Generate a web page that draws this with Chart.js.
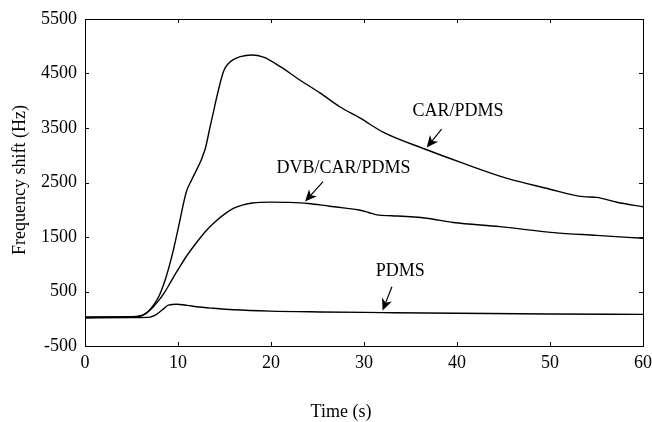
<!DOCTYPE html>
<html>
<head>
<meta charset="utf-8">
<script src="https://cdn.jsdelivr.net/npm/chart.js@4"></script>
<style>
  html, body { margin: 0; padding: 0; background: #fff; }
  #wrap { width: 652px; height: 422px; }
</style>
</head>
<body>
<div id="wrap"><canvas id="lineChart" width="652" height="422"></canvas></div>
<script>
// time (s) and frequency shift (Hz)
var carTime  = [0, 5, 6, 6.5, 7, 7.5, 8, 8.5, 9, 9.5, 10, 10.9, 11.5, 12.9, 13.5, 14.9, 15.4, 16, 16.7, 17.9, 19.2, 21, 23.1, 25.3, 27.4, 29.6, 32.1, 36.6, 40.7, 45.3, 49.6, 53.6, 55, 57.2, 60];
var carShift = [35, 38, 55, 90, 170, 280, 430, 650, 930, 1260, 1640, 2330, 2560, 3100, 3560, 4540, 4680, 4760, 4810, 4840, 4800, 4625, 4380, 4140, 3890, 3680, 3420, 3110, 2850, 2580, 2395, 2240, 2228, 2137, 2055];

var dvbTime  = [0, 5, 6, 6.5, 7, 7.5, 8, 8.5, 9, 9.5, 10, 11, 12, 13, 14, 15, 16, 17, 18, 20, 22, 24, 26.3, 28, 29.5, 30.5, 31.4, 33, 36.7, 39.6, 44.6, 50.4, 55, 60];
var dvbShift = [25, 28, 50, 95, 160, 250, 350, 470, 610, 760, 900, 1170, 1400, 1610, 1780, 1920, 2030, 2090, 2125, 2140, 2135, 2115, 2065, 2030, 1995, 1950, 1905, 1890, 1845, 1765, 1690, 1580, 1530, 1476];

var pdmsTime  = [0, 5, 7, 7.5, 8, 8.5, 8.96, 9.86, 11, 12, 13.8, 16, 19.9, 25.3, 32, 40, 50, 60];
var pdmsShift = [15, 20, 30, 60, 120, 190, 250, 265, 245, 220, 192, 165, 140, 125, 113, 100, 88, 80];

var xTicks = [0, 10, 20, 30, 40, 50, 60];
var yTicks = [-500, 500, 1500, 2500, 3500, 4500, 5500];

// curve labels with arrows, in data units: text centre, arrow tail, arrow tip
var notes = [
    { text: "CAR/PDMS", at: [40.1, 3800], from: [38.35, 3480], to: [36.74, 3140] },
    { text: "DVB/CAR/PDMS", at: [27.8, 2760], from: [25.6, 2515], to: [23.66, 2150] },
    { text: "PDMS", at: [33.9, 863], from: [33, 588], to: [32, 150] },
];

function pts(t, v) {
    return t.map(function (x, i) { return { x: x, y: v[i] }; });
}

var font = "'Liberation Serif', 'DejaVu Serif', serif";

var frame = {
    id: "frame",
    afterDatasetsDraw: function (chart) {
        var ctx = chart.ctx, a = chart.chartArea, xs = chart.scales.x, ys = chart.scales.y;
        ctx.save();
        ctx.strokeStyle = "#000";
        ctx.fillStyle = "#000";
        ctx.lineWidth = 1;
        ctx.strokeRect(Math.round(a.left) + 0.5, Math.round(a.top) + 0.5,
            Math.round(a.width), Math.round(a.height));
        // inward tick marks on all four sides
        ctx.beginPath();
        xTicks.forEach(function (v) {
            var p = Math.round(xs.getPixelForValue(v)) + 0.5;
            ctx.moveTo(p, a.bottom); ctx.lineTo(p, a.bottom - 4);
            ctx.moveTo(p, a.top); ctx.lineTo(p, a.top + 4);
        });
        yTicks.forEach(function (v) {
            var p = Math.round(ys.getPixelForValue(v)) + 0.5;
            ctx.moveTo(a.left, p); ctx.lineTo(a.left + 4, p);
            ctx.moveTo(a.right, p); ctx.lineTo(a.right - 4, p);
        });
        ctx.stroke();

        // labels and arrows
        ctx.font = "18px " + font;
        ctx.textAlign = "center";
        ctx.textBaseline = "middle";
        notes.forEach(function (n) {
            ctx.fillText(n.text, xs.getPixelForValue(n.at[0]), ys.getPixelForValue(n.at[1]));
            var x1 = xs.getPixelForValue(n.from[0]), y1 = ys.getPixelForValue(n.from[1]);
            var x2 = xs.getPixelForValue(n.to[0]), y2 = ys.getPixelForValue(n.to[1]);
            var ang = Math.atan2(y2 - y1, x2 - x1), L = 13, W = 0.42;
            ctx.lineWidth = 1.2;
            ctx.beginPath();
            ctx.moveTo(x1, y1);
            ctx.lineTo(x2 - 8 * Math.cos(ang), y2 - 8 * Math.sin(ang));
            ctx.stroke();
            ctx.beginPath();
            ctx.moveTo(x2, y2);
            ctx.lineTo(x2 - L * Math.cos(ang - W), y2 - L * Math.sin(ang - W));
            ctx.lineTo(x2 - 0.65 * L * Math.cos(ang), y2 - 0.65 * L * Math.sin(ang));
            ctx.lineTo(x2 - L * Math.cos(ang + W), y2 - L * Math.sin(ang + W));
            ctx.closePath();
            ctx.fill();
        });

        // axis titles
        ctx.fillText("Time (s)", 341, 412);
        ctx.translate(20, 180);
        ctx.rotate(-Math.PI / 2);
        ctx.fillText("Frequency shift (Hz)", 0, 0);
        ctx.restore();
    },
};

function line(label, t, v) {
    return {
        label: label,
        data: pts(t, v),
        borderColor: "#000",
        borderWidth: 1.4,
        pointRadius: 0,
        fill: false,
        cubicInterpolationMode: "monotone",
    };
}

var ctx1 = document.getElementById("lineChart").getContext("2d"),
    myChart = new Chart(ctx1, {
        type: "line",
        data: {
            datasets: [
                line("CAR/PDMS", carTime, carShift),
                line("DVB/CAR/PDMS", dvbTime, dvbShift),
                line("PDMS", pdmsTime, pdmsShift),
            ],
        },
        options: {
            responsive: !1,
            animation: !1,
            layout: { padding: { left: 0, right: 9, top: 19, bottom: 0 } },
            plugins: { legend: { display: !1 }, tooltip: { enabled: !1 } },
            scales: {
                x: {
                    type: "linear",
                    min: 0,
                    max: 60,
                    afterBuildTicks: function (s) { s.ticks = xTicks.map(function (v) { return { value: v }; }); },
                    afterFit: function (s) { s.height = 76; s.paddingLeft = 0; s.paddingRight = 0; },
                    ticks: {
                        color: "#000", padding: 6, maxRotation: 0,
                        font: { family: font, size: 18 },
                        callback: function (v) { return String(v); },
                    },
                    grid: { display: !1, drawTicks: !1 },
                    border: { display: !1 },
                },
                y: {
                    min: -500,
                    max: 5500,
                    afterBuildTicks: function (s) { s.ticks = yTicks.map(function (v) { return { value: v }; }); },
                    afterFit: function (s) { s.width = 85; s.paddingTop = 0; s.paddingBottom = 0; },
                    ticks: {
                        color: "#000", padding: 8,
                        font: { family: font, size: 18 },
                        callback: function (v) { return String(v); },
                    },
                    grid: { display: !1, drawTicks: !1 },
                    border: { display: !1 },
                },
            },
        },
        plugins: [frame],
    });
</script>
</body>
</html>
